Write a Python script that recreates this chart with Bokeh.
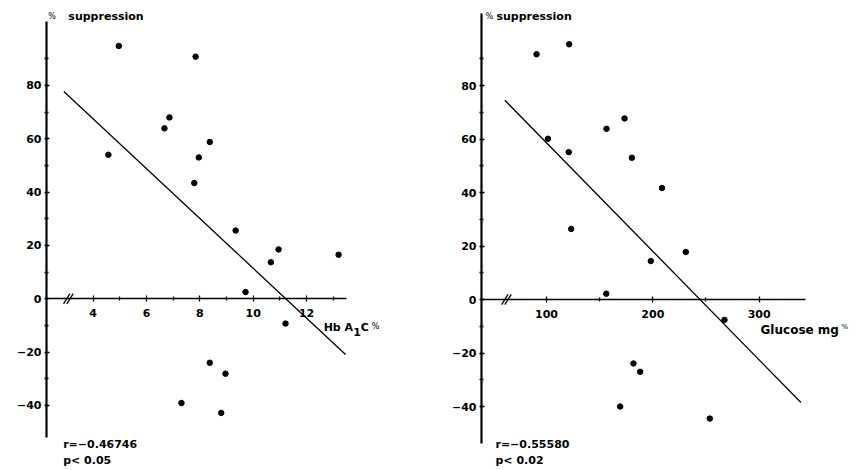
from bokeh.plotting import figure
from bokeh.layouts import row
from bokeh.models import LinearAxis, FixedTicker, Range1d
from bokeh.core.properties import value
from bokeh.embed import file_html
from bokeh.resources import INLINE

# ---------------- data ----------------
hba1c = [4.96, 7.84, 6.86, 6.67, 8.37, 4.57, 7.96, 7.79, 9.34,
         10.95, 10.66, 13.2, 9.71, 11.21, 8.37, 8.96, 7.31, 8.8]
supp_hba1c = [94.8, 90.8, 68.0, 63.9, 58.8, 54.0, 53.0, 43.4, 25.6,
              18.5, 13.7, 16.5, 2.5, -9.3, -24.0, -28.1, -39.1, -42.8]
fit_hba1c_x = [2.90, 13.46]
fit_hba1c_y = [77.7, -20.9]

glucose = [90.6, 121.3, 101.3, 120.9, 156.4, 173.4, 180.3, 208.6, 123.2,
           231.0, 198.1, 156.2, 267.4, 181.8, 188.1, 169.3, 253.6]
supp_glucose = [91.7, 95.4, 60.1, 55.1, 63.8, 67.7, 53.0, 41.7, 26.4,
                17.8, 14.4, 2.2, -7.6, -23.9, -27.0, -40.0, -44.5]
fit_glucose_x = [60.8, 339.3]
fit_glucose_y = [74.5, -38.5]

y_major = [-40, -20, 0, 20, 40, 60, 80]
y_minor = [-30, -10, 10, 30, 50, 70, 90]
y_label_overrides = {-40: "\u221240", -20: "\u221220"}
hb_major = [4, 6, 8, 10, 12]
hb_minor = [5, 7, 9, 11, 13]
glu_major = [100, 200, 300]
glu_minor = [150, 250]

y_title = "suppression"
hb_title = ["Hb A", "1", "C"]
glu_title = "Glucose mg"
stats_hba1c = ["r=\u22120.46746", "p< 0.05"]
stats_glucose = ["r=\u22120.55580", "p< 0.02"]

FONT = "DejaVu Sans"
H = 470


def style_axis(ax, major, minor, line_width):
    ax.ticker = FixedTicker(ticks=major, minor_ticks=minor)
    ax.axis_line_width = line_width
    ax.axis_line_color = "black"
    ax.major_tick_in = 3
    ax.major_tick_out = 3
    ax.minor_tick_in = 2
    ax.minor_tick_out = 2
    ax.major_tick_line_width = 1.3
    ax.minor_tick_line_width = 1.3
    ax.major_tick_line_color = "black"
    ax.minor_tick_line_color = "black"
    ax.major_label_text_font = FONT
    ax.major_label_text_font_size = "11px"
    ax.major_label_text_font_style = "bold"
    ax.major_label_text_color = "black"


def make_panel(width, bl, br, xr, yr, xb, yb, xmaj, xmin, xs, ys, fx, fy):
    p = figure(width=width, height=H, output_backend="svg", toolbar_location=None,
               x_axis_type=None, y_axis_type=None,
               x_range=Range1d(*xr), y_range=Range1d(*yr),
               min_border_left=bl, min_border_right=br,
               min_border_top=0, min_border_bottom=0)
    p.grid.visible = False
    p.outline_line_color = None
    p.background_fill_color = "white"
    p.border_fill_color = "white"

    yax = LinearAxis(bounds=yb)
    style_axis(yax, y_major, y_minor, 2.2)
    yax.major_tick_out = 2
    yax.major_label_standoff = 3
    yax.major_label_overrides = y_label_overrides
    p.add_layout(yax, "left")

    xax = LinearAxis(bounds=xb, fixed_location=0)
    style_axis(xax, xmaj, xmin, 1.5)
    xax.major_label_standoff = 7
    p.add_layout(xax, "below")

    p.line(fx, fy, line_color="black", line_width=1.3)
    p.scatter(xs, ys, size=5.5, color="black", marker="circle")
    return p


# ---------------- left panel: Hb A1C ----------------
p1 = make_panel(430, 46, 22, (2.25, 15.82), (-64.4, 111.85), (2.25, 13.5), (-52, 104),
                hb_major, hb_minor, hba1c, supp_hba1c, fit_hba1c_x, fit_hba1c_y)
# axis break marks
bx1 = 3.09
p1.segment(x0=[bx1 - 0.20, bx1 - 0.08], y0=[-1.9, -1.9], x1=[bx1 + 0.04, bx1 + 0.16], y1=[1.9, 1.9],
           line_color="black", line_width=1.3)
p1.text(x=[2.32], y=[106], text=["%"], text_font=value(FONT), text_font_size=value("8px"),
        text_baseline="middle", text_color="black")
p1.text(x=[2.32], y=[106], text=[y_title], x_offset=20, text_font=value(FONT),
        text_font_size=value("11px"), text_font_style="bold", text_baseline="middle", text_color="black")
p1.text(x=[12.64] * 3, y=[-10.8] * 3, text=hb_title, x_offset=[0, 29.5, 37], y_offset=[0, 4, 0],
        text_font=value(FONT), text_font_size=value("11px"), text_font_style="bold",
        text_baseline="middle", text_color="black")
p1.text(x=[12.64], y=[-10.8], text=["%"], x_offset=48, y_offset=-1, text_font=value(FONT),
        text_font_size=value("8px"), text_baseline="middle", text_color="black")
p1.text(x=[2.876, 2.876], y=[-54.5, -60.8], text=stats_hba1c, text_font=value(FONT),
        text_font_size=value("11px"), text_font_style="bold", text_baseline="middle", text_color="black")

# ---------------- right panel: Glucose ----------------
p2 = make_panel(429, 51, 0, (38.85, 394.4), (-63.9, 111.78), (38.85, 343.6), (-53.8, 106.9),
                glu_major, glu_minor, glucose, supp_glucose, fit_glucose_x, fit_glucose_y)
bx2 = 63.0
p2.segment(x0=[bx2 - 5.2, bx2 - 2.2], y0=[-1.9, -1.9], x1=[bx2 + 0.8, bx2 + 3.8], y1=[1.9, 1.9],
           line_color="black", line_width=1.3)
p2.text(x=[42.6], y=[105.8], text=["%"], text_font=value(FONT), text_font_size=value("8px"),
        text_baseline="middle", text_color="black")
p2.text(x=[42.6], y=[105.8], text=[y_title], x_offset=11, text_font=value(FONT),
        text_font_size=value("11px"), text_font_style="bold", text_baseline="middle", text_color="black")
p2.text(x=[301.3], y=[-11.3], text=[glu_title], text_font=value(FONT), text_font_size=value("12px"),
        text_font_style="bold", text_baseline="middle", text_color="black")
p2.text(x=[301.3], y=[-11.3], text=["%"], x_offset=81, y_offset=-3, text_font=value(FONT),
        text_font_size=value("7px"), text_baseline="middle", text_color="black")
p2.text(x=[52.0, 52.0], y=[-54.1, -60.3], text=stats_glucose, text_font=value(FONT),
        text_font_size=value("11px"), text_font_style="bold", text_baseline="middle", text_color="black")

layout = row(p1, p2)
open("out.html", "w").write(file_html(layout, INLINE))
